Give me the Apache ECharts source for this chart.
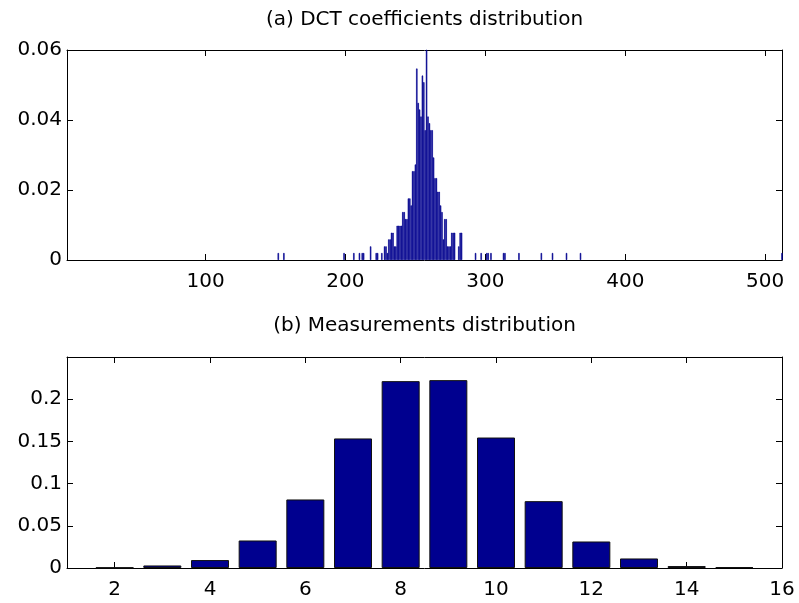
<!DOCTYPE html>
<html><head><meta charset="utf-8">
<script src="https://cdn.jsdelivr.net/npm/echarts@6/dist/echarts.min.js"></script>
<style>html,body{margin:0;padding:0;background:#fff}#c{width:799px;height:603px}</style>
</head><body><div id="c"></div>
<script>
// ---- data ----
const titleA = '(a) DCT coefficients distribution';
const titleB = '(b) Measurements distribution';

const dctBins = [152,156,199,206,210,212,213,218,222,223,226,228,229,230,231,232,233,234,235,236,237,238,239,240,241,242,243,244,245,246,247,248,249,250,251,252,253,254,255,256,257,258,259,260,261,262,263,264,265,266,267,268,269,270,271,272,273,274,275,276,277,278,281,282,283,293,297,301,302,304,313,314,324,340,348,358,368,512];
const dctValues = [0.002,0.002,0.002,0.002,0.002,0.002,0.002,0.0039,0.002,0.002,0.002,0.0039,0.0039,0.002,0.0059,0.0059,0.0078,0.0078,0.0039,0.0039,0.0098,0.0098,0.0098,0.0098,0.0137,0.0137,0.0117,0.0117,0.0176,0.0176,0.0156,0.0254,0.0254,0.0273,0.0547,0.0449,0.043,0.041,0.0527,0.0508,0.0371,0.0605,0.041,0.0391,0.0371,0.0371,0.0293,0.0234,0.0234,0.0195,0.0195,0.0156,0.0137,0.0059,0.0117,0.0117,0.0039,0.0039,0.0039,0.0078,0.0078,0.0078,0.0039,0.0078,0.0078,0.002,0.002,0.002,0.002,0.002,0.002,0.002,0.002,0.002,0.002,0.002,0.002,0.002];
const dctXTicks = [100,200,300,400,500];

const measBins = [2,3,4,5,6,7,8,9,10,11,12,13,14,15];
const measValues = [0.0006,0.003,0.0094,0.0326,0.0812,0.1535,0.2214,0.2226,0.1546,0.0792,0.0314,0.0113,0.0023,0.0011];
const measXTicks = [2,4,6,8,10,12,14,16];

// ---- chart ----
const FONT = 'DejaVu Sans';
const FS = 20;
const BAR = '#00008f';

function xAx(grid, pos, min, max, ticks, labels) {
  return {
    type: 'value', gridIndex: grid, position: pos, min: min, max: max,
    splitLine: {show: false},
    axisLine: {show: true, onZero: false, lineStyle: {color: '#000', width: 1}},
    axisTick: {show: true, inside: true, length: 6, customValues: ticks, lineStyle: {color: '#000'}},
    axisLabel: {show: labels, customValues: ticks, margin: 12, color: '#000', fontFamily: FONT, fontSize: FS}
  };
}
function yAx(grid, pos, max, interval, labels) {
  return {
    type: 'value', gridIndex: grid, position: pos, min: 0, max: max, interval: interval,
    splitLine: {show: false},
    axisLine: {show: true, onZero: false, lineStyle: {color: '#000', width: 1}},
    axisTick: {show: true, inside: true, length: 6, lineStyle: {color: '#000'}},
    axisLabel: {show: labels, showMaxLabel: max === 0.06, margin: 5, color: '#000', fontFamily: FONT, fontSize: FS}
  };
}

const chart = echarts.init(document.getElementById('c'));
chart.setOption({
  animation: false,
  backgroundColor: '#fff',
  grid: [
    {left: 67, top: 50, width: 715, height: 210},
    {left: 67, top: 357, width: 715, height: 211}
  ],
  xAxis: [
    xAx(0, 'bottom', 1, 512, dctXTicks, true),
    xAx(0, 'top', 1, 512, dctXTicks, false),
    xAx(1, 'bottom', 1, 16, measXTicks, true),
    xAx(1, 'top', 1, 16, measXTicks, false)
  ],
  yAxis: [
    yAx(0, 'left', 0.06, 0.02, true),
    yAx(0, 'right', 0.06, 0.02, false),
    yAx(1, 'left', 0.25, 0.05, true),
    yAx(1, 'right', 0.25, 0.05, false)
  ],
  graphic: [
    {type: 'text', x: 424.5, y: 20, style: {text: titleA, align: 'center', verticalAlign: 'middle', fill: '#000', font: FS + 'px "' + FONT + '"'}},
    {type: 'text', x: 424.5, y: 326, style: {text: titleB, align: 'center', verticalAlign: 'middle', fill: '#000', font: FS + 'px "' + FONT + '"'}}
  ],
  series: [
    {
      type: 'bar', xAxisIndex: 0, yAxisIndex: 0, barWidth: 1.4,
      itemStyle: {color: BAR, borderColor: BAR, borderWidth: 0.6},
      data: dctBins.map((b, i) => [b, dctValues[i]])
    },
    {
      type: 'bar', xAxisIndex: 2, yAxisIndex: 2, barWidth: 38,
      itemStyle: {color: BAR, borderColor: '#111', borderWidth: 1},
      data: measBins.map((b, i) => [b, measValues[i]])
    }
  ]
});
</script>
</body></html>
